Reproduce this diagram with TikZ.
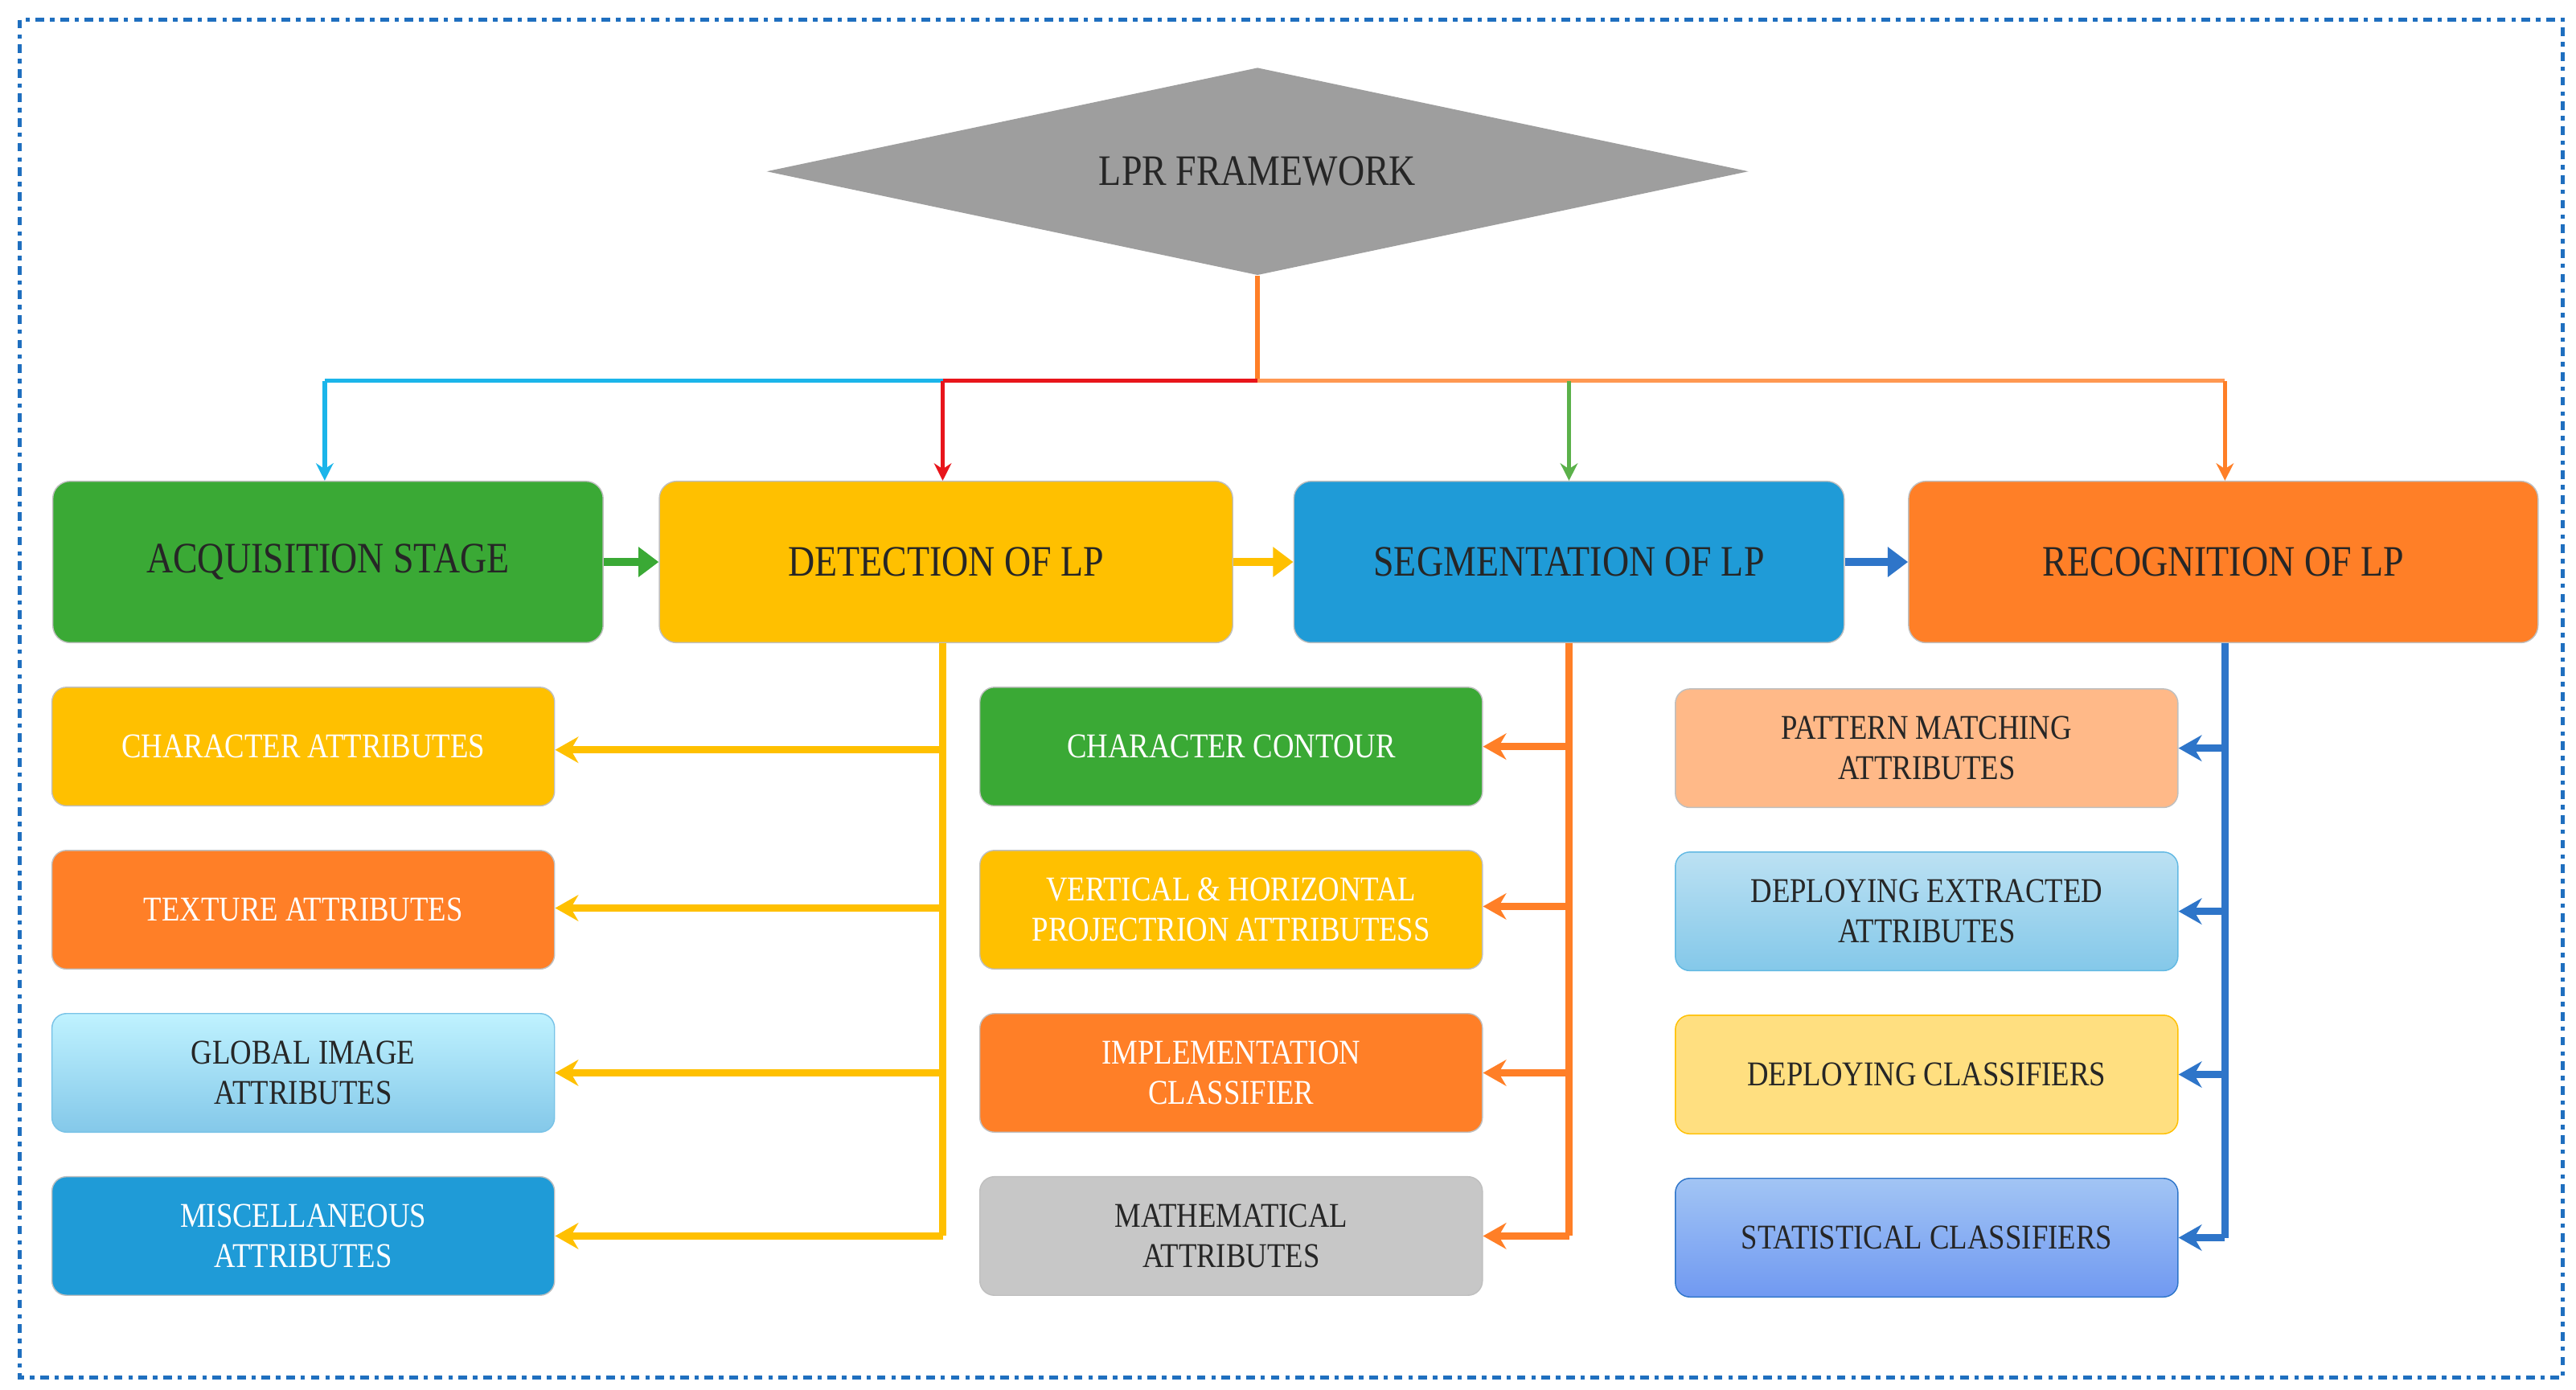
\documentclass[tikz,border=0pt]{standalone}
\usepackage{fontspec}
\setmainfont{Liberation Serif}[FakeStretch=0.85]
\usetikzlibrary{shapes.geometric,arrows.meta}
\definecolor{cgreen}{HTML}{3AA935}
\definecolor{cyel}{HTML}{FFC000}
\definecolor{cblue}{HTML}{1F9BD7}
\definecolor{corange}{HTML}{FF7F27}
\definecolor{cframe}{HTML}{1F6FBF}
\definecolor{ccyan}{HTML}{1BB5EA}
\definecolor{cred}{HTML}{E8151B}
\definecolor{cgr}{HTML}{5BB14A}
\definecolor{carr}{HTML}{2E75C9}
\tikzset{
 big/.style={rounded corners=6pt,draw=black!25,minimum width=#1,minimum height=1.96cm,font=\fontsize{15}{17}\selectfont,align=center,text=black!85},
 sm/.style={rounded corners=5pt,draw=black!25,minimum width=6.1cm,minimum height=1.44cm,font=\fontsize{12}{14}\selectfont,align=center,text=black!85},
 wt/.style={text=white},
 thin/.style={line width=1.6pt,-{Stealth[length=6pt,width=6pt]}},
 fat/.style={line width=3pt,-{Triangle[length=7pt,width=10pt]}},
}
\begin{document}
\begin{tikzpicture}[x=0.02cm,y=-0.02cm]
\useasboundingbox (0,0) rectangle (1563,843);
\draw[cframe,line width=1.5pt,dash dot] (12,12) rectangle (1555,836);
\node[diamond,fill=black!38,minimum width=11.92cm,minimum height=2.52cm,inner sep=0,aspect=4.7,font=\fontsize{15}{17}\selectfont,text=black!85] (lpr) at (763,104) {LPR FRAMEWORK};
% top boxes
\node[big=6.68cm,fill=cgreen] (acq) at (199,341) {ACQUISITION STAGE};
\node[big=6.96cm,fill=cyel] (det) at (574,341) {DETECTION OF LP};
\node[big=6.68cm,fill=cblue] (seg) at (952,341) {SEGMENTATION OF LP};
\node[big=7.64cm,fill=corange] (rec) at (1349,341) {RECOGNITION OF LP};
% top connectors
\coordinate (j) at (763,231);
\draw[corange,line width=1.6pt] (lpr.south) -- (j);
\draw[cred,line width=1.6pt] (j) -- (572,231);
\draw[ccyan,line width=1.6pt] (572,231) -- (197,231);
\draw[ccyan,thin] (197,231) -- (acq.north -| 197,0);
\draw[cred,thin] (572,231) -- (det.north -| 572,0);
\draw[corange!80,line width=1.6pt] (j) -- (1350,231);
\draw[cgr,thin] (952,231) -- (seg.north -| 952,0);
\draw[corange,thin] (1350,231) -- (rec.north -| 1350,0);
\draw[cgreen,fat] (acq) -- (det);
\draw[cyel,fat] (det) -- (seg);
\draw[carr,fat] (seg) -- (rec);
% left column
\node[sm,fill=cyel,wt] (l1) at (184,453) {CHARACTER ATTRIBUTES};
\node[sm,fill=corange,wt] (l2) at (184,552) {TEXTURE ATTRIBUTES};
\node[sm,top color=blue!20!cyan!25,bottom color=cblue!55,draw=cblue!60] (l3) at (184,651) {GLOBAL IMAGE\\ATTRIBUTES};
\node[sm,fill=cblue,wt] (l4) at (184,750) {MISCELLANEOUS\\ATTRIBUTES};
% middle column
\node[sm,fill=cgreen,wt] (m1) at (747,453) {CHARACTER CONTOUR};
\node[sm,fill=cyel,wt] (m2) at (747,552) {VERTICAL \& HORIZONTAL\\PROJECTRION ATTRIBUTESS};
\node[sm,fill=corange,wt] (m3) at (747,651) {IMPLEMENTATION\\CLASSIFIER};
\node[sm,fill=black!22] (m4) at (747,750) {MATHEMATICAL\\ATTRIBUTES};
% right column
\node[sm,fill=corange!55] (r1) at (1169,454) {PATTERN MATCHING\\ATTRIBUTES};
\node[sm,top color=cblue!30,bottom color=cblue!55,draw=cblue!70] (r2) at (1169,553) {DEPLOYING EXTRACTED\\ATTRIBUTES};
\node[sm,fill=cyel!50,draw=cyel] (r3) at (1169,652) {DEPLOYING CLASSIFIERS};
\node[sm,top color=blue!30!cblue!40,bottom color=blue!45!cblue!60,draw=carr] (r4) at (1169,751) {STATISTICAL CLASSIFIERS};
% branch lines
\draw[cyel,line width=2.4pt] (det.south -| 572,0) -- (572,750);
\foreach \n/\yy in {l1/455,l2/551,l3/651,l4/750}
  \draw[cyel,line width=2.4pt,-{Stealth[length=8pt,width=9pt]}] (572,\yy) -- (\n.east |- 0,\yy);
\draw[corange,line width=2.4pt] (seg.south -| 952,0) -- (952,750);
\foreach \n/\yy in {m1/453,m2/550,m3/651,m4/750}
  \draw[corange,line width=2.4pt,-{Stealth[length=8pt,width=9pt]}] (952,\yy) -- (\n.east |- 0,\yy);
\draw[carr,line width=2.4pt] (rec.south -| 1350,0) -- (1350,751);
\foreach \n/\yy in {r1/454,r2/553,r3/652,r4/751}
  \draw[carr,line width=2.4pt,-{Stealth[length=8pt,width=9pt]}] (1350,\yy) -- (\n.east |- 0,\yy);
\end{tikzpicture}
\end{document}
